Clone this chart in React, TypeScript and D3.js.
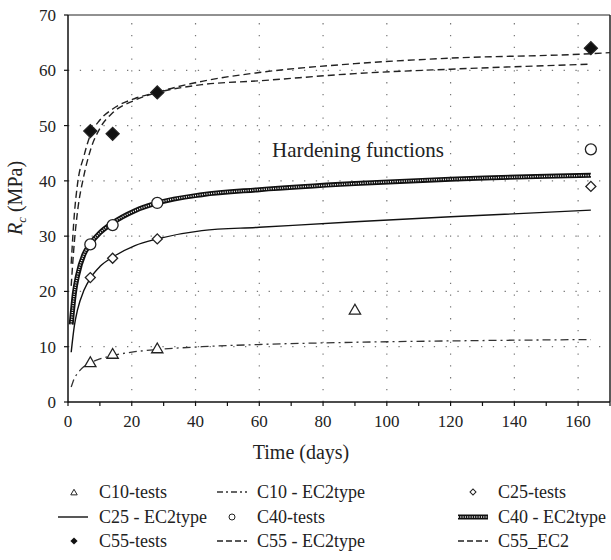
import React from "react";
import * as d3 from "d3";

// curve sample days and values
const days = [1, 2, 3, 5, 7, 10, 14, 21, 28, 42, 60, 90, 120, 164];
const daysLong = [1, 2, 3, 5, 7, 10, 14, 21, 28, 42, 60, 90, 120, 164, 170];
const c10Fit = [2.7, 4.3, 5.2, 6.4, 7.1, 7.8, 8.4, 9.1, 9.5, 10.0, 10.4, 10.8, 11.05, 11.3];
const c25Fit = [9.0, 13.8, 16.7, 20.2, 22.4, 24.5, 26.2, 28.3, 29.5, 31.0, 31.6, 32.6, 33.5, 34.7];
const c40Fit = [14.0, 19.7, 22.9, 26.7, 28.6, 30.6, 32.4, 34.6, 36.0, 37.5, 38.4, 39.5, 40.3, 41.0];
const c55Fit = [25, 34, 39.5, 44.5, 48.3, 51, 53, 54.9, 56, 57.4, 58.1, 59.4, 60.2, 61.1];
const c55Ec2 = [21, 29, 34.5, 41, 45.5, 49.5, 52.3, 54.6, 56, 58, 59.6, 61.2, 62.2, 63.0, 63.2];

// test results
const testDays = [7, 14, 28, 164];
const c10TestDays = [7, 14, 28, 90];
const c10Tests = [7, 8.5, 9.5, 16.5];
const c25Tests = [22.5, 26, 29.5, 39];
const c40Tests = [28.5, 32, 36, 45.7];
const c55Tests = [49, 48.5, 56, 64];

const xTicks = [0, 20, 40, 60, 80, 100, 120, 140, 160];
const yTicks = [0, 10, 20, 30, 40, 50, 60, 70];

const FONT = '"Liberation Serif", "Times New Roman", "DejaVu Serif", serif';

const margin = { left: 68, top: 15, right: 1, bottom: 158 };
const W = 611;
const H = 560;

const x = d3.scaleLinear().domain([0, 170]).range([margin.left, W - margin.right]);
const y = d3.scaleLinear().domain([0, 70]).range([H - margin.bottom, margin.top]);

const line = (xs: number[], ys: number[]) =>
  d3
    .line<number>()
    .x((_, i) => x(xs[i]))
    .y((d) => y(d))
    .curve(d3.curveMonotoneX)(ys) || "";

const tri = (size: number) => d3.symbol().type(d3.symbolTriangle).size(size)() || "";
const sq = (size: number) => d3.symbol().type(d3.symbolSquare).size(size)() || "";

const dash55 = "7,4";
const dash10 = "8,4,2,4";

const App = () => {
  const x0 = x(0);
  const x1 = x(170);
  const y0 = y(0);
  const y1 = y(70);
  const minor = d3.range(0, 171, 10);

  const legRows = [492, 517, 541];
  const col = [
    { s: 58, m: 74, t: 99 },
    { s: 217, m: 232, t: 257 },
    { s: 458, m: 473, t: 498 },
  ];
  const lineSym = (c: number, r: number, props: any) => (
    <line x1={col[c].s} x2={col[c].s + 30} y1={legRows[r]} y2={legRows[r]} {...props} />
  );

  return (
    <svg
      width={W}
      height={H}
      style={{ position: "absolute", left: 0, top: 0, background: "#fff", fontFamily: FONT }}
    >
      <rect width={W} height={H} fill="#fff" />
      {/* grid */}
      <g stroke="#777" strokeWidth={1.2} strokeDasharray="1.3,10.5">
        {xTicks.slice(1).map((t) => (
          <line key={"gx" + t} x1={x(t)} x2={x(t)} y1={y0} y2={y1} />
        ))}
        {yTicks.slice(1, -1).map((t) => (
          <line key={"gy" + t} x1={x0} x2={x1} y1={y(t)} y2={y(t)} />
        ))}
      </g>

      {/* frame */}
      <line x1={x0} x2={x1} y1={y1} y2={y1} stroke="#222" strokeWidth={1} />
      <line x1={x1} x2={x1} y1={y1} y2={y0} stroke="#222" strokeWidth={1.5} />
      <line x1={x0} x2={x0} y1={y1} y2={y0 + 0.5} stroke="#111" strokeWidth={1.5} />
      <line x1={x0} x2={x1} y1={y0} y2={y0} stroke="#111" strokeWidth={1.5} />
      {minor.map((t) => (
        <line key={"tx" + t} x1={x(t)} x2={x(t)} y1={y0} y2={y0 + 4} stroke="#111" strokeWidth={1.2} />
      ))}
      {yTicks.map((t) => (
        <line key={"ty" + t} x1={x0 - 4} x2={x0} y1={y(t)} y2={y(t)} stroke="#111" strokeWidth={1.2} />
      ))}

      {/* tick labels */}
      <g fontSize={17} fill="#222">
        {xTicks.map((t) => (
          <text key={"lx" + t} x={x(t)} y={y0 + 25} textAnchor="middle">
            {t}
          </text>
        ))}
        {yTicks.map((t) => (
          <text key={"ly" + t} x={x0 - 12} y={y(t)} dy="0.35em" textAnchor="end">
            {t}
          </text>
        ))}
      </g>

      {/* axis titles */}
      <text x={301} y={459} fontSize={20} textAnchor="middle" fill="#222">
        Time (days)
      </text>
      <text transform="translate(22,198) rotate(-90)" fontSize={20} textAnchor="middle" fill="#222">
        <tspan fontStyle="italic">R</tspan>
        <tspan fontStyle="italic" fontSize={13} dy={4}>c</tspan>
        <tspan dy={-4}> (MPa)</tspan>
      </text>

      <text x={272} y={157} fontSize={21} fill="#222">
        Hardening functions
      </text>

      {/* fitted curves */}
      <g fill="none">
        <path d={line(days, c10Fit)} stroke="#333" strokeWidth={1.3} strokeDasharray={dash10} />
        <path d={line(days, c25Fit)} stroke="#111" strokeWidth={1.4} />
        <path d={line(days, c40Fit)} stroke="#111" strokeWidth={5} />
        <path d={line(days, c40Fit)} stroke="#fff" strokeWidth={1.5} strokeDasharray="1,1.3" />
        <path d={line(days, c55Fit)} stroke="#222" strokeWidth={1.4} strokeDasharray={dash55} />
        <path d={line(daysLong, c55Ec2)} stroke="#222" strokeWidth={1.4} strokeDasharray={dash55} />
      </g>

      {/* tests */}
      <g stroke="#222" strokeWidth={1.3}>
        {c10TestDays.map((t, i) => (
          <path key={"t10" + i} d={tri(55)} transform={`translate(${x(t)},${y(c10Tests[i])})`} fill="#fff" />
        ))}
        {testDays.map((t, i) => (
          <path key={"t25" + i} d={sq(50)} transform={`translate(${x(t)},${y(c25Tests[i])}) rotate(45)`} fill="#fff" />
        ))}
        {testDays.map((t, i) => (
          <circle key={"t40" + i} cx={x(t)} cy={y(c40Tests[i])} r={5.5} fill="#fff" />
        ))}
        {testDays.map((t, i) => (
          <path key={"t55" + i} d={sq(85)} transform={`translate(${x(t)},${y(c55Tests[i])}) rotate(45)`} fill="#111" />
        ))}
      </g>

      {/* legend */}
      <g fontSize={18} fill="#222">
        <path d={tri(18)} transform={`translate(${col[0].m},${legRows[0] + 1})`} fill="#fff" stroke="#222" strokeWidth={1} />
        <text x={col[0].t} y={legRows[0]} dy="0.35em">C10-tests</text>
        {lineSym(1, 0, { stroke: "#333", strokeWidth: 1.3, strokeDasharray: "6,3,2,3" })}
        <text x={col[1].t} y={legRows[0]} dy="0.35em">C10 - EC2type</text>
        <path d={sq(18)} transform={`translate(${col[2].m},${legRows[0]}) rotate(45)`} fill="#fff" stroke="#222" strokeWidth={1} />
        <text x={col[2].t} y={legRows[0]} dy="0.35em">C25-tests</text>

        {lineSym(0, 1, { stroke: "#111", strokeWidth: 1.4 })}
        <text x={col[0].t} y={legRows[1]} dy="0.35em">C25 - EC2type</text>
        <circle cx={col[1].m} cy={legRows[1]} r={3} fill="#fff" stroke="#222" strokeWidth={1} />
        <text x={col[1].t} y={legRows[1]} dy="0.35em">C40-tests</text>
        {lineSym(2, 1, { stroke: "#111", strokeWidth: 5 })}
        {lineSym(2, 1, { stroke: "#fff", strokeWidth: 1.5, strokeDasharray: "1,1.3" })}
        <text x={col[2].t} y={legRows[1]} dy="0.35em">C40 - EC2type</text>

        <path d={sq(26)} transform={`translate(${col[0].m},${legRows[2]}) rotate(45)`} fill="#111" />
        <text x={col[0].t} y={legRows[2]} dy="0.35em">C55-tests</text>
        {lineSym(1, 2, { stroke: "#222", strokeWidth: 1.3, strokeDasharray: "6,3" })}
        <text x={col[1].t} y={legRows[2]} dy="0.35em">C55 - EC2type</text>
        {lineSym(2, 2, { stroke: "#222", strokeWidth: 1.3, strokeDasharray: "6,3" })}
        <text x={col[2].t} y={legRows[2]} dy="0.35em">C55_EC2</text>
      </g>
    </svg>
  );
};

export default App;
